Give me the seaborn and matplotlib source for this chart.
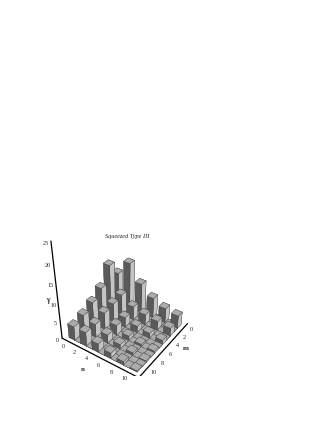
import pandas as pd
import matplotlib
matplotlib.use("Agg")
import matplotlib.pyplot as plt
import seaborn as sns
from mpl_toolkits.mplot3d import proj3d

n_vals = list(range(11))
m_vals = list(range(11))
# rows are n, columns are m; only even photon numbers have any height
heights = [
    [9.0, 0, 13.0, 0, 8.5, 0, 6.5, 0, 5.0, 0, 4.0],
    [0, 0, 0, 0, 0, 0, 0, 0, 0, 0, 0],
    [13.0, 0, 6.0, 0, 5.5, 0, 5.0, 0, 4.0, 0, 4.0],
    [0, 0, 0, 0, 0, 0, 0, 0, 0, 0, 0],
    [8.5, 0, 4.0, 0, 3.0, 0, 3.0, 0, 2.6, 0, 2.5],
    [0, 0, 0, 0, 0, 0, 0, 0, 0, 0, 0],
    [5.8, 0, 3.2, 0, 2.0, 0, 1.5, 0, 1.5, 0, 1.6],
    [0, 0, 0, 0, 0, 0, 0, 0, 0, 0, 0],
    [4.3, 0, 2.8, 0, 1.6, 0, 0.8, 0, 0.9, 0, 1.0],
    [0, 0, 0, 0, 0, 0, 0, 0, 0, 0, 0],
    [3.7, 0, 2.4, 0, 1.2, 0, 0.6, 0, 0.4, 0, 0.3],
]
tick_vals = [0, 2, 4, 6, 8, 10]
z_ticks = [0, 5, 10, 15, 20, 25]

sns.set_theme(style="white")
plt.rcParams["font.family"] = ["Liberation Serif", "DejaVu Serif"]

df = pd.DataFrame(heights, index=n_vals, columns=m_vals).stack().reset_index()
df.columns = ["n", "m", "gamma"]
# camera sits on the +n +m side, so paint from the back to the front
df["depth"] = df["n"] + df["m"]
df = df.sort_values("depth")

fig = plt.figure(figsize=(3.27, 4.23), dpi=100)
ax = fig.add_axes([0.108, 0.1105, 0.541, 0.413], projection="3d")
ax.computed_zorder = False
ax.set_proj_type("persp", focal_length=0.45)
ax.view_init(elev=35, azim=35)
ax.set_box_aspect((1, 1, 1.2), zoom=1.0)

lo, hi = -1.2, 11.2
width = 1.08
dark, top, light = "#5a5a5a", "#ababab", "#c4c4c4"
# bar3d face order: bottom, top, -y, +y, -x, +x
face_colors = [top, top, light, light, dark, dark]
for i, row in enumerate(df.itertuples()):
    ax.bar3d(row.m - width / 2, row.n - width / 2, 0, width, width, row.gamma,
             color=face_colors, shade=False, edgecolor="#333333", linewidth=0.2,
             zorder=i + 1)

ax.set_xlim(lo, hi)
ax.set_ylim(lo, hi)
ax.set_zlim(0, 25)
ax.set_axis_off()

# frame lines of the base and the vertical axis
ax.plot([hi, hi], [lo, hi], [0, 0], color="black", lw=0.9, zorder=500)
ax.plot([hi, lo], [hi, hi], [0, 0], color="black", lw=0.9, zorder=500)
ax.plot([hi, hi], [lo, lo], [0, 25], color="black", lw=0.9, zorder=500)


def label(x, y, z, s, **kw):
    # place text at the projected spot so it stays a plain 2D text
    px, py, _ = proj3d.proj_transform(x, y, z, ax.get_proj())
    ax.text2D(px, py, s, ha="center", va="center", transform=ax.transData, **kw)


for v in tick_vals:
    label(hi + 0.9, v - 0.3, -0.6, str(v), fontsize=4.5)
    label(v - 0.8, hi + 0.9, -0.6, str(v), fontsize=4.5)
for v in z_ticks:
    label(hi + 0.7, lo - 0.2, v, str(v), fontsize=4.5)
label(hi + 2.6, 4.6, -0.6, "n", fontsize=5, fontweight="bold")
label(3.0, hi + 2.0, -0.6, "m", fontsize=5, fontweight="bold")
label(hi + 1.4, lo - 0.2, 12, "γ", fontsize=5.5, fontweight="bold")

fig.text(127 / 327, 1 - 236 / 423, "Squeezed Type III", fontsize=4.5, style="italic",
         ha="center", va="center", color="#222222")

fig.savefig("out.png", dpi=100)
